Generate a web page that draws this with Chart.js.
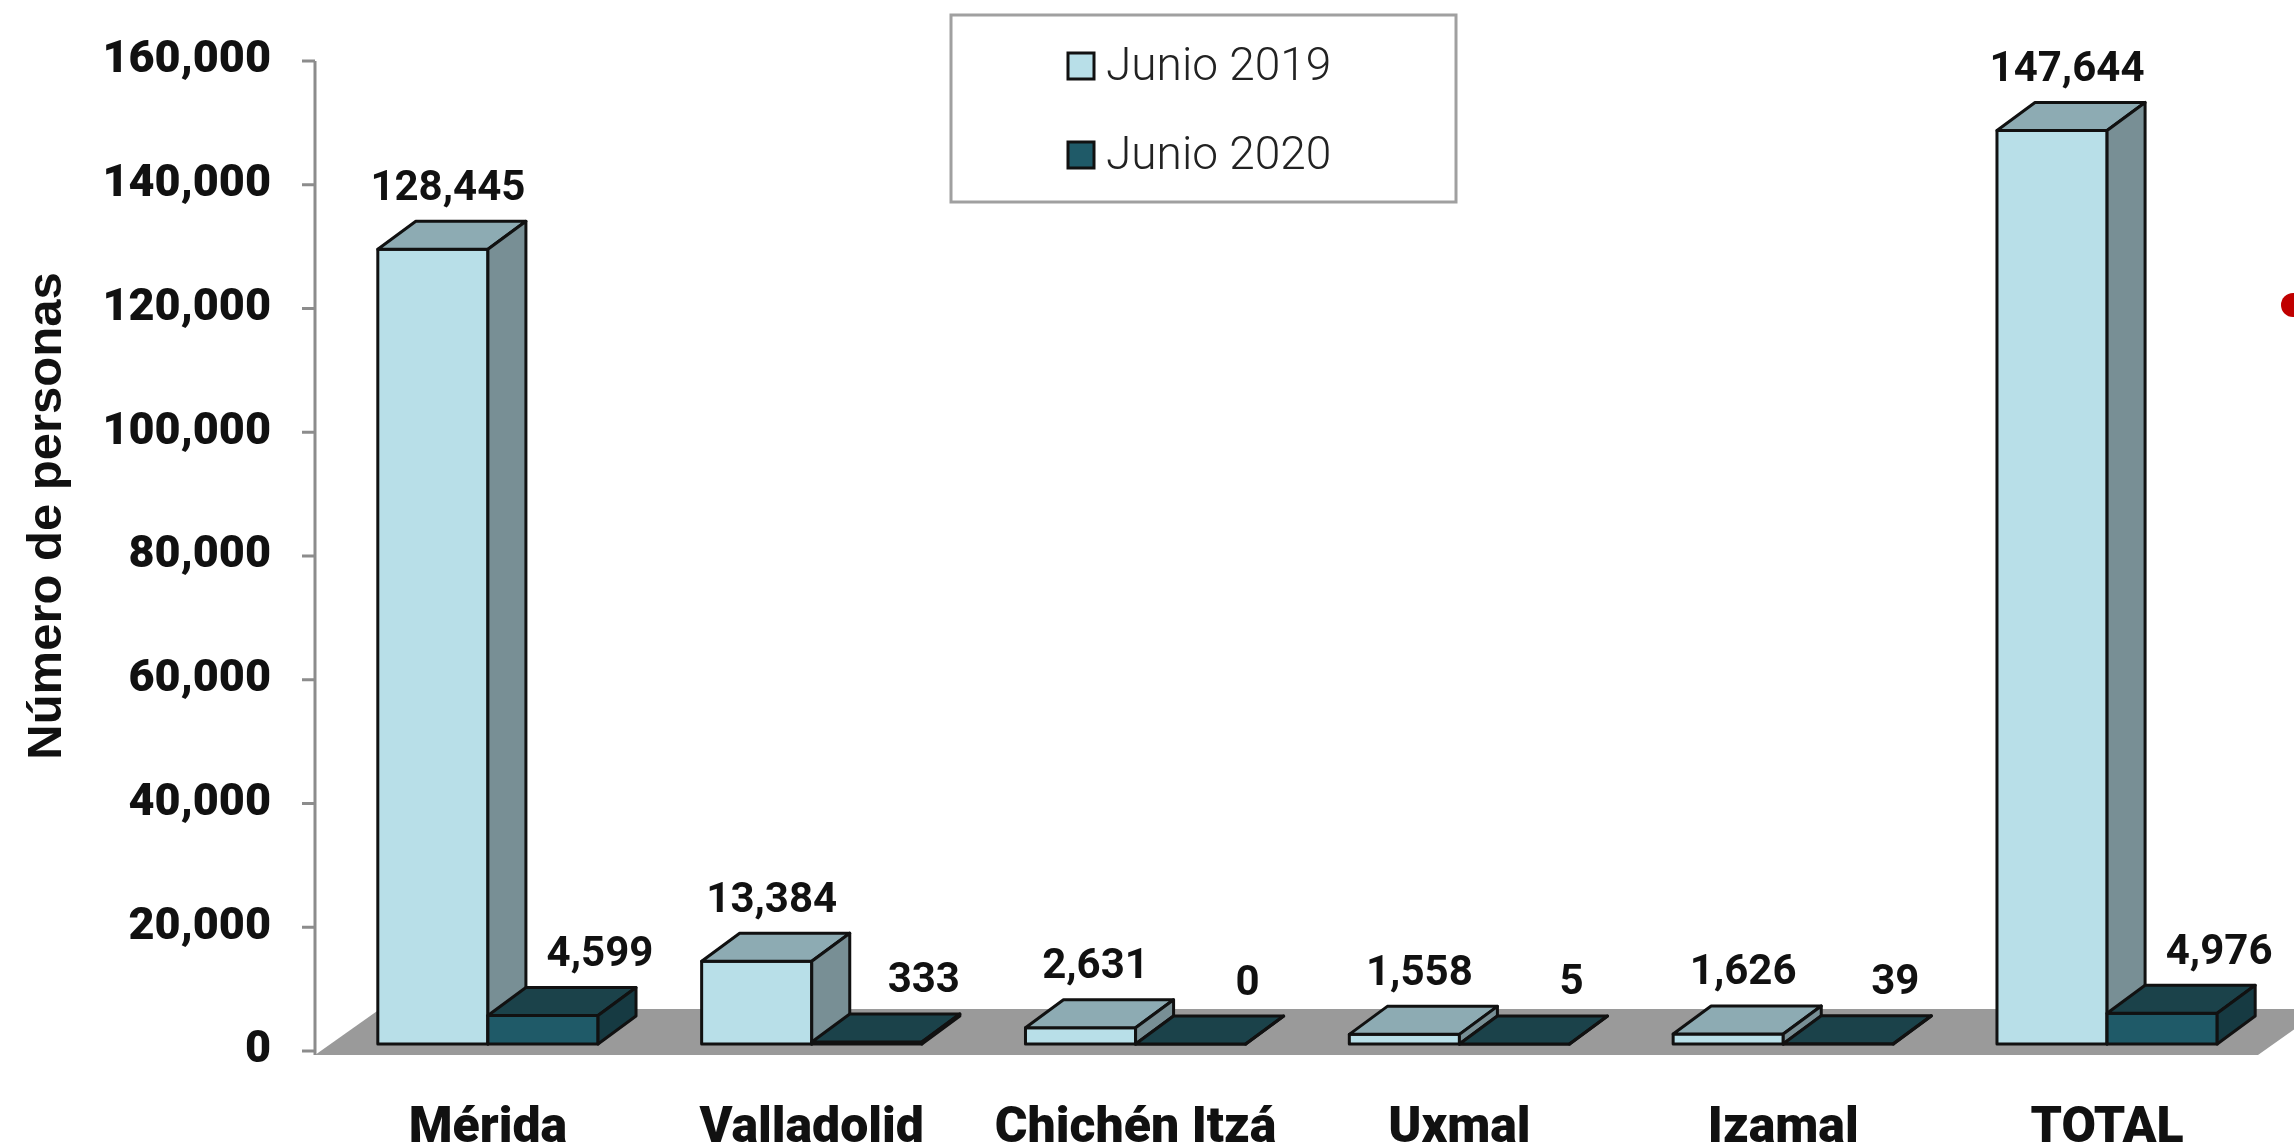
<!DOCTYPE html>
<html>
<head>
<meta charset="utf-8">
<script src="https://cdn.jsdelivr.net/npm/chart.js@4.4.1/dist/chart.umd.min.js"></script>
<style>
    html, body { margin: 0; padding: 0; background: #fff; }
    #wrap { width: 2294px; height: 1143px; }
</style>
</head>
<body>
<div id="wrap"><canvas id="chart" width="2294" height="1143"></canvas></div>
<script>
// Values
const categories = ['Mérida', 'Valladolid', 'Chichén Itzá', 'Uxmal', 'Izamal', 'TOTAL'];
const junio2019 = [128445, 13384, 2631, 1558, 1626, 147644];
const junio2020 = [4599, 333, 0, 5, 39, 4976];
const seriesNames = ['Junio 2019', 'Junio 2020'];
const yTicks = [0, 20000, 40000, 60000, 80000, 100000, 120000, 140000, 160000];
const yTitle = 'Número de personas';

// Face colours for the 3D boxes
const faces = [
    { front: '#B8DFE8', top: '#8DABB3', side: '#788F95' },
    { front: '#1F5A68', top: '#1B424A', side: '#163A42' }
];
const labelShift = [15, 57];   // value labels sit a bit right of the bar

const DX = 38, DY = 28, LIFT = 7;
const fmt = v => v.toLocaleString('en-US');

function poly(ctx, pts, fill) {
    ctx.beginPath();
    ctx.moveTo(pts[0][0], pts[0][1]);
    for (let i = 1; i < pts.length; i++) ctx.lineTo(pts[i][0], pts[i][1]);
    ctx.closePath();
    ctx.fillStyle = fill;
    ctx.fill();
    ctx.stroke();
}

const bars3d = {
    id: 'bars3d',
    beforeDatasetsDraw(chart) {
        const { ctx, chartArea, scales } = chart;
        const y0 = scales.y.getPixelForValue(0);
        const axisX = chartArea.left - 11;

        // grey floor
        ctx.save();
        ctx.fillStyle = '#9A9A9A';
        ctx.beginPath();
        ctx.moveTo(axisX, y0 + 4);
        ctx.lineTo(chartArea.right - 11, y0 + 4);
        ctx.lineTo(chartArea.right - 11 + 65, y0 + 4 - 46);
        ctx.lineTo(axisX + 65, y0 + 4 - 46);
        ctx.closePath();
        ctx.fill();

        // y axis line and tick marks
        ctx.strokeStyle = '#8C8C8C';
        ctx.lineWidth = 3;
        ctx.beginPath();
        ctx.moveTo(axisX, scales.y.getPixelForValue(yTicks[yTicks.length - 1]));
        ctx.lineTo(axisX, y0 + 4);
        yTicks.forEach(v => {
            const py = scales.y.getPixelForValue(v);
            ctx.moveTo(axisX - 13, py);
            ctx.lineTo(axisX, py);
        });
        ctx.stroke();
        ctx.restore();
    },
    afterDatasetsDraw(chart) {
        const { ctx } = chart;
        ctx.save();
        ctx.lineWidth = 3;
        ctx.lineJoin = 'round';
        ctx.strokeStyle = '#111';
        categories.forEach((c, i) => {
            chart.data.datasets.forEach((ds, d) => {
                const el = chart.getDatasetMeta(d).data[i];
                const p = el.getProps(['x', 'y', 'base', 'width'], true);
                const l = p.x - p.width / 2, r = p.x + p.width / 2;
                const t = p.y - LIFT, b = p.base - LIFT;
                const f = faces[d];
                poly(ctx, [[l, b], [l, t], [r, t], [r, b]], f.front);
                poly(ctx, [[l, t], [l + DX, t - DY], [r + DX, t - DY], [r, t]], f.top);
                poly(ctx, [[r, t], [r + DX, t - DY], [r + DX, b - DY], [r, b]], f.side);
            });
        });
        // value labels
        ctx.fillStyle = '#111';
        ctx.font = '700 42px Roboto';
        ctx.textAlign = 'center';
        ctx.textBaseline = 'middle';
        chart.data.datasets.forEach((ds, d) => {
            chart.getDatasetMeta(d).data.forEach((el, i) => {
                const p = el.getProps(['x', 'y'], true);
                ctx.fillText(fmt(ds.data[i]), p.x + labelShift[d], p.y - LIFT - DY - 32);
            });
        });
        ctx.restore();
    },
    afterDraw(chart) {
        const { ctx } = chart;
        ctx.save();
        // legend box
        ctx.strokeStyle = '#A0A0A0';
        ctx.lineWidth = 3;
        ctx.strokeRect(951, 15, 505, 187);
        ctx.font = '300 46px Roboto';
        ctx.textAlign = 'left';
        ctx.textBaseline = 'middle';
        seriesNames.forEach((name, d) => {
            const cy = 66 + d * 89;
            ctx.fillStyle = faces[d].front;
            ctx.fillRect(1068, cy - 13, 26, 26);
            ctx.strokeStyle = '#111';
            ctx.strokeRect(1068, cy - 13, 26, 26);
            ctx.fillStyle = '#222';
            ctx.fillText(name, 1106, cy + 2);
        });

        // y axis title
        ctx.translate(47, 516);
        ctx.rotate(-Math.PI / 2);
        ctx.font = '700 49px "Liberation Sans", Arial, sans-serif';
        ctx.textAlign = 'center';
        ctx.fillStyle = '#111';
        ctx.fillText(yTitle, 0, 0);
        ctx.restore();

        // red dot at the slide edge
        ctx.save();
        ctx.fillStyle = '#C00000';
        ctx.beginPath();
        ctx.arc(2293, 305, 12, 0, Math.PI * 2);
        ctx.fill();
        ctx.restore();
    }
};

const chart = new Chart(document.getElementById('chart'), {
    type: 'bar',
    data: {
        labels: categories,
        datasets: [
            { label: seriesNames[0], data: junio2019, backgroundColor: 'rgba(0,0,0,0)', borderWidth: 0 },
            { label: seriesNames[1], data: junio2020, backgroundColor: 'rgba(0,0,0,0)', borderWidth: 0 }
        ]
    },
    options: {
        responsive: false,
        animation: false,
        devicePixelRatio: 1,
        layout: { padding: { top: 61, right: 25, left: 0, bottom: 0 } },
        datasets: { bar: { categoryPercentage: 0.68, barPercentage: 1.0 } },
        plugins: { legend: { display: false }, tooltip: { enabled: false } },
        scales: {
            x: {
                grid: { display: false, drawTicks: false },
                border: { display: false },
                ticks: { color: '#111', padding: 48, font: { family: 'Roboto', weight: '900', size: 50 } },
                afterFit: s => { s.height = 92; }
            },
            y: {
                min: 0,
                max: 160000,
                grid: { display: false, drawTicks: false },
                border: { display: false },
                afterBuildTicks: s => { s.ticks = yTicks.map(v => ({ value: v })); },
                ticks: {
                    color: '#111',
                    padding: 55,
                    font: { family: 'Roboto', weight: '900', size: 45 },
                    callback: v => fmt(v)
                },
                afterFit: s => {
                    s.width = 326;
                    s.paddingTop = 0;
                    s.paddingBottom = 0;
                }
            }
        }
    },
    plugins: [bars3d]
});
</script>
</body>
</html>
